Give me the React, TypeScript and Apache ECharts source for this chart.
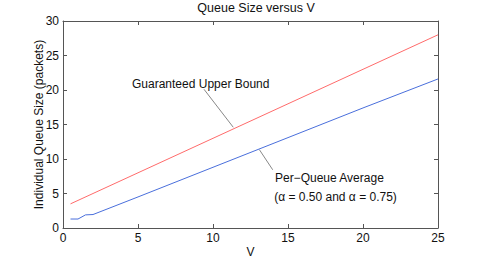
import React, { useEffect, useRef } from "react";
import * as echarts from "echarts";

const vUpper = [0.5, 25];
const upperBound = [3.5, 28];
const vAvg = [0.5, 1, 1.5, 2, 5, 10, 15, 20, 25];
const perQueueAvg = [1.3, 1.3, 1.9, 1.95, 4.5, 8.8, 13.1, 17.4, 21.6];
const xTicks = [0, 5, 10, 15, 20, 25];
const yTicks = [0, 5, 10, 15, 20, 25, 30];

const FONT = "'Liberation Sans', Arial, sans-serif";

export default function App() {
  const ref = useRef<HTMLDivElement>(null);
  useEffect(() => {
    if (!ref.current) return;
    const chart = echarts.init(ref.current, null, { renderer: "svg" });
    const axisLine = { show: true, onZero: false, lineStyle: { color: "#555", width: 1 } };
    const tick = { show: true, inside: true, length: 4, lineStyle: { color: "#555" } };
    const baseX = {
      type: "value" as const,
      min: xTicks[0],
      max: xTicks[xTicks.length - 1],
      interval: 5,
      splitLine: { show: false },
      axisLine,
      axisTick: tick,
    };
    const baseY = {
      type: "value" as const,
      min: yTicks[0],
      max: yTicks[yTicks.length - 1],
      interval: 5,
      splitLine: { show: false },
      axisLine,
      axisTick: tick,
    };
    chart.setOption({
      animation: false,
      backgroundColor: "#fff",
      textStyle: { fontFamily: FONT },
      title: {
        text: "Queue Size versus V",
        left: 251,
        top: -4,
        textAlign: "center",
        textStyle: { fontSize: 12.5, fontWeight: "normal", color: "#111", fontFamily: FONT },
      },
      grid: { left: 63, right: 47, top: 21, bottom: 30 },
      xAxis: [
        {
          ...baseX,
          position: "bottom",
          name: "V",
          nameLocation: "middle",
          nameGap: 18,
          nameMoveOverlap: false,
          nameTextStyle: { fontSize: 12, color: "#111", fontFamily: FONT },
          axisLabel: { fontSize: 12, color: "#111", margin: 4, fontFamily: FONT },
        },
        { ...baseX, position: "top", axisLabel: { show: false } },
      ],
      yAxis: [
        {
          ...baseY,
          position: "left",
          name: "Individual Queue Size (packets)",
          nameLocation: "middle",
          nameGap: 18,
          nameMoveOverlap: false,
          nameTextStyle: { fontSize: 12, color: "#111", fontFamily: FONT },
          axisLabel: { fontSize: 12, color: "#111", margin: 4, fontFamily: FONT },
        },
        { ...baseY, position: "right", axisLabel: { show: false } },
      ],
      series: [
        {
          type: "line",
          name: "Guaranteed Upper Bound",
          data: vUpper.map((v, i) => [v, upperBound[i]]),
          showSymbol: false,
          lineStyle: { color: "#ff6b6b", width: 1 },
        },
        {
          type: "line",
          name: "Per-Queue Average",
          data: vAvg.map((v, i) => [v, perQueueAvg[i]]),
          showSymbol: false,
          lineStyle: { color: "#4a6fdc", width: 1 },
        },
      ],
    });

    const px = (x: number, y: number) =>
      chart.convertToPixel({ xAxisIndex: 0, yAxisIndex: 0 }, [x, y]) as number[];
    const t1 = px(4.6, 20.8);
    const l1a = px(9.4, 20.1);
    const l1b = px(11.35, 14.6);
    const l2a = px(13.09, 11.36);
    const l2b = px(13.98, 8.44);
    const t2 = px(14.13, 7.26);
    const t3 = px(14.08, 4.43);
    const ts = { fontSize: 12, fill: "#111", fontFamily: FONT, textVerticalAlign: "middle" };
    chart.setOption({
      graphic: [
        { type: "text", x: t1[0], y: t1[1], style: { ...ts, text: "Guaranteed Upper Bound" } },
        {
          type: "line",
          shape: { x1: l1a[0], y1: l1a[1], x2: l1b[0], y2: l1b[1] },
          style: { stroke: "#888", lineWidth: 1 },
        },
        {
          type: "line",
          shape: { x1: l2a[0], y1: l2a[1], x2: l2b[0], y2: l2b[1] },
          style: { stroke: "#888", lineWidth: 1 },
        },
        { type: "text", x: t2[0], y: t2[1], style: { ...ts, text: "Per\u2212Queue Average" } },
        { type: "text", x: t3[0], y: t3[1], style: { ...ts, text: "(\u03b1 = 0.50 and \u03b1 = 0.75)" } },
      ],
    });
    return () => chart.dispose();
  }, []);
  return <div ref={ref} style={{ width: 485, height: 263, position: "absolute", left: 0, top: 0 }} />;
}
